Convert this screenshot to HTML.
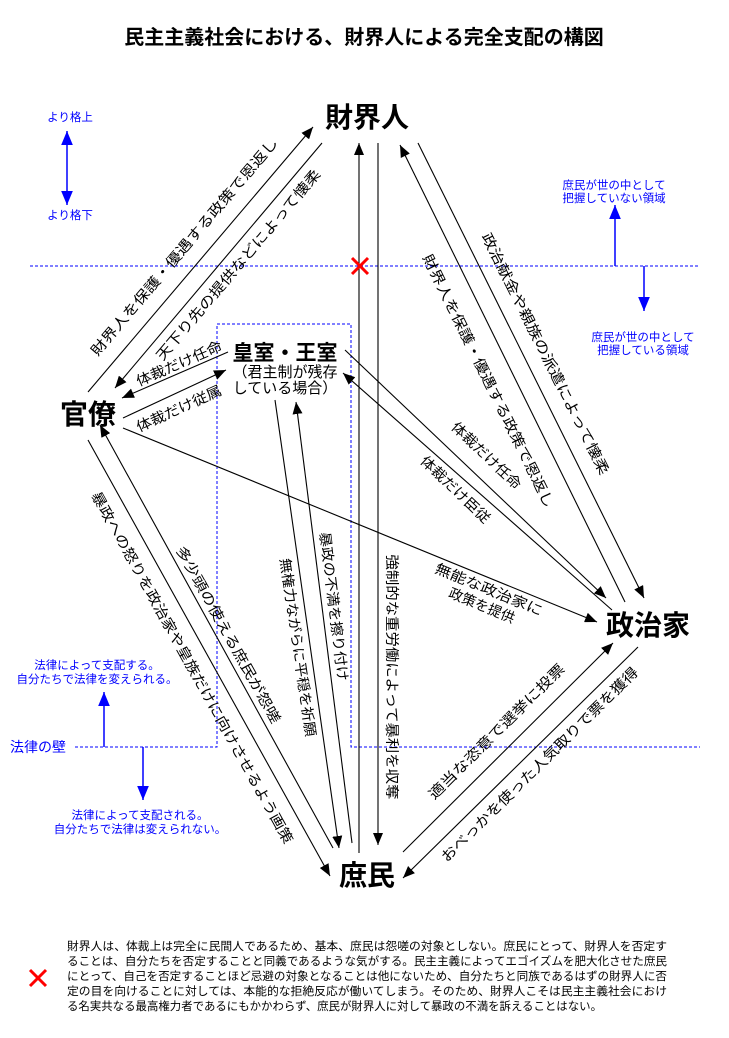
<!DOCTYPE html>
<html><head><meta charset="utf-8"><style>
html,body{margin:0;padding:0;background:#fff}
svg{display:block}
text{font-family:"Liberation Sans","Noto Sans CJK JP",sans-serif}
.l{font-size:14px;fill:#000}
.b{font-size:11.5px;fill:#00f}
.n{font-weight:bold;fill:#000}
</style></head><body>
<svg width="729" height="1038" viewBox="0 0 729 1038" xmlns="http://www.w3.org/2000/svg">
<defs>
<marker id="a" viewBox="0 0 12 10" refX="12" refY="5" markerWidth="12" markerHeight="10" markerUnits="userSpaceOnUse" orient="auto"><path d="M0,0L12,5L0,10z" fill="#000"/></marker>
<marker id="ab" viewBox="0 0 12 10" refX="12" refY="5" markerWidth="14" markerHeight="12" markerUnits="userSpaceOnUse" orient="auto"><path d="M0,0L12,5L0,10z" fill="#00f"/></marker>
</defs>
<text x="364" y="44" text-anchor="middle" class="n" font-size="20">民主主義社会における、財界人による完全支配の構図</text>

<g stroke="#00f" stroke-width="1" stroke-dasharray="3,2" fill="none">
<line x1="30" y1="266" x2="700" y2="266"/>
<polyline points="75,747 217,747 217,324 351,324 351,747 700,747"/>
</g>
<g stroke="#00f" stroke-width="1.5" fill="none">
<line x1="67" y1="170" x2="67" y2="131" marker-end="url(#ab)"/>
<line x1="67" y1="170" x2="67" y2="205" marker-end="url(#ab)"/>
<line x1="615" y1="266" x2="615" y2="205" marker-end="url(#ab)"/>
<line x1="644" y1="266" x2="644" y2="311" marker-end="url(#ab)"/>
<line x1="104" y1="747" x2="104" y2="692" marker-end="url(#ab)"/>
<line x1="143" y1="747" x2="143" y2="800" marker-end="url(#ab)"/>
</g>
<g class="b" text-anchor="middle">
<text x="70" y="121">より格上</text>
<text x="70" y="219">より格下</text>
<text x="614" y="189">庶民が世の中として</text>
<text x="614" y="202">把握していない領域</text>
<text x="643" y="341">庶民が世の中として</text>
<text x="643" y="354">把握している領域</text>
<text x="97" y="669">法律によって支配する。</text>
<text x="97" y="683">自分たちで法律を変えられる。</text>
<text x="140" y="819">法律によって支配される。</text>
<text x="140" y="833">自分たちで法律は変えられない。</text>
<text x="38" y="752" font-size="14">法律の壁</text>
</g>

<g stroke="#000" stroke-width="1.1" fill="none">
<line x1="88" y1="392" x2="313" y2="127" marker-end="url(#a)"/>
<line x1="322" y1="143" x2="115" y2="388" marker-end="url(#a)"/>
<line x1="228" y1="352" x2="122" y2="398" marker-end="url(#a)"/>
<line x1="123" y1="418" x2="226" y2="370" marker-end="url(#a)"/>
<line x1="123" y1="428" x2="597" y2="622" marker-end="url(#a)"/>
<line x1="345" y1="350" x2="606" y2="598" marker-end="url(#a)"/>
<line x1="612" y1="610" x2="343" y2="373" marker-end="url(#a)"/>
<line x1="418" y1="143" x2="644" y2="598" marker-end="url(#a)"/>
<line x1="625" y1="602" x2="400" y2="145" marker-end="url(#a)"/>
<line x1="359" y1="853" x2="359" y2="143" marker-end="url(#a)"/>
<line x1="378" y1="143" x2="378" y2="845" marker-end="url(#a)"/>
<line x1="275" y1="400" x2="339" y2="848" marker-end="url(#a)"/>
<line x1="352" y1="843" x2="296" y2="402" marker-end="url(#a)"/>
<line x1="88" y1="440" x2="330" y2="876" marker-end="url(#a)"/>
<line x1="333" y1="848" x2="100" y2="425" marker-end="url(#a)"/>
<line x1="403" y1="852" x2="613" y2="643" marker-end="url(#a)"/>
<line x1="638" y1="647" x2="403" y2="878" marker-end="url(#a)"/>
</g>

<g stroke="#f00" stroke-width="3">
<line x1="352" y1="258" x2="368" y2="274"/><line x1="368" y1="258" x2="352" y2="274"/>
<line x1="30" y1="970" x2="46" y2="986"/><line x1="46" y1="970" x2="30" y2="986"/>
</g>

<text x="367" y="127" text-anchor="middle" class="n" font-size="28">財界人</text>
<text x="88" y="424" text-anchor="middle" class="n" font-size="28">官僚</text>
<text x="648" y="635" text-anchor="middle" class="n" font-size="28">政治家</text>
<text x="367" y="885" text-anchor="middle" class="n" font-size="28">庶民</text>
<text x="285" y="360" text-anchor="middle" class="n" font-size="21">皇室・王室</text>
<text x="285" y="377" text-anchor="middle" font-size="15">（君主制が残存</text>
<text x="285" y="393" text-anchor="middle" font-size="15">している場合）</text>

<g class="l" text-anchor="middle">
<text transform="translate(188,250) rotate(-49.7)" textLength="280" lengthAdjust="spacingAndGlyphs">財界人を保護・優遇する政策で恩返し</text>
<text transform="translate(242,268) rotate(-49.7)" textLength="245" lengthAdjust="spacingAndGlyphs">天下り先の提供などによって懐柔</text>
<text transform="translate(181,368) rotate(-23.5)" textLength="92" lengthAdjust="spacingAndGlyphs">体裁だけ任命</text>
<text transform="translate(181,413) rotate(-24.5)" textLength="92" lengthAdjust="spacingAndGlyphs">体裁だけ従属</text>
<text transform="translate(541,356) rotate(63.5)" textLength="268" lengthAdjust="spacingAndGlyphs">政治献金や親族の派遣によって懐柔</text>
<text transform="translate(484,383) rotate(63.8)" textLength="280" lengthAdjust="spacingAndGlyphs">財界人を保護・優遇する政策で恩返し</text>
<text transform="translate(483,459) rotate(43.6)" textLength="90" lengthAdjust="spacingAndGlyphs">体裁だけ任命</text>
<text transform="translate(452,493) rotate(43.6)" textLength="90" lengthAdjust="spacingAndGlyphs">体裁だけ臣従</text>
<text transform="translate(487,594) rotate(22.4)" textLength="115" lengthAdjust="spacingAndGlyphs">無能な政治家に</text>
<text transform="translate(480,610) rotate(22.4)">政策を提供</text>
<text transform="translate(387,677) rotate(90)" textLength="245" lengthAdjust="spacingAndGlyphs">強制的な重労働によって暴利を収奪</text>
<text transform="translate(329,607) rotate(82.9)" textLength="150" lengthAdjust="spacingAndGlyphs">暴政の不満を擦り付け</text>
<text transform="translate(293,648) rotate(81.7)" textLength="180" lengthAdjust="spacingAndGlyphs">無権力ながらに平穏を祈願</text>
<text transform="translate(188,670) rotate(61)" textLength="400" lengthAdjust="spacingAndGlyphs">暴政への怒りを政治家や皇族だけに向けさせるよう画策</text>
<text transform="translate(224,637) rotate(61)" textLength="200" lengthAdjust="spacingAndGlyphs">多少頭の使える庶民が怨嗟</text>
<text transform="translate(500,735) rotate(-44.8)" textLength="185" lengthAdjust="spacingAndGlyphs">適当な恣意で選挙に投票</text>
<text transform="translate(543,768) rotate(-44.6)" textLength="270" lengthAdjust="spacingAndGlyphs">おべっかを使った人気取りで票を獲得</text>
</g>

<g font-size="11.5" fill="#000">
<text x="67" y="950" textLength="600" lengthAdjust="spacingAndGlyphs">財界人は、体裁上は完全に民間人であるため、基本、庶民は怨嗟の対象としない。庶民にとって、財界人を否定す</text>
<text x="67" y="965" textLength="600" lengthAdjust="spacingAndGlyphs">ることは、自分たちを否定することと同義であるような気がする。民主主義によってエゴイズムを肥大化させた庶民</text>
<text x="67" y="980" textLength="600" lengthAdjust="spacingAndGlyphs">にとって、自己を否定することほど忌避の対象となることは他にないため、自分たちと同族であるはずの財界人に否</text>
<text x="67" y="995" textLength="600" lengthAdjust="spacingAndGlyphs">定の目を向けることに対しては、本能的な拒絶反応が働いてしまう。そのため、財界人こそは民主主義社会におけ</text>
<text x="67" y="1010" textLength="535" lengthAdjust="spacingAndGlyphs">る名実共なる最高権力者であるにもかかわらず、庶民が財界人に対して暴政の不満を訴えることはない。</text>
</g>
</svg>
</body></html>
